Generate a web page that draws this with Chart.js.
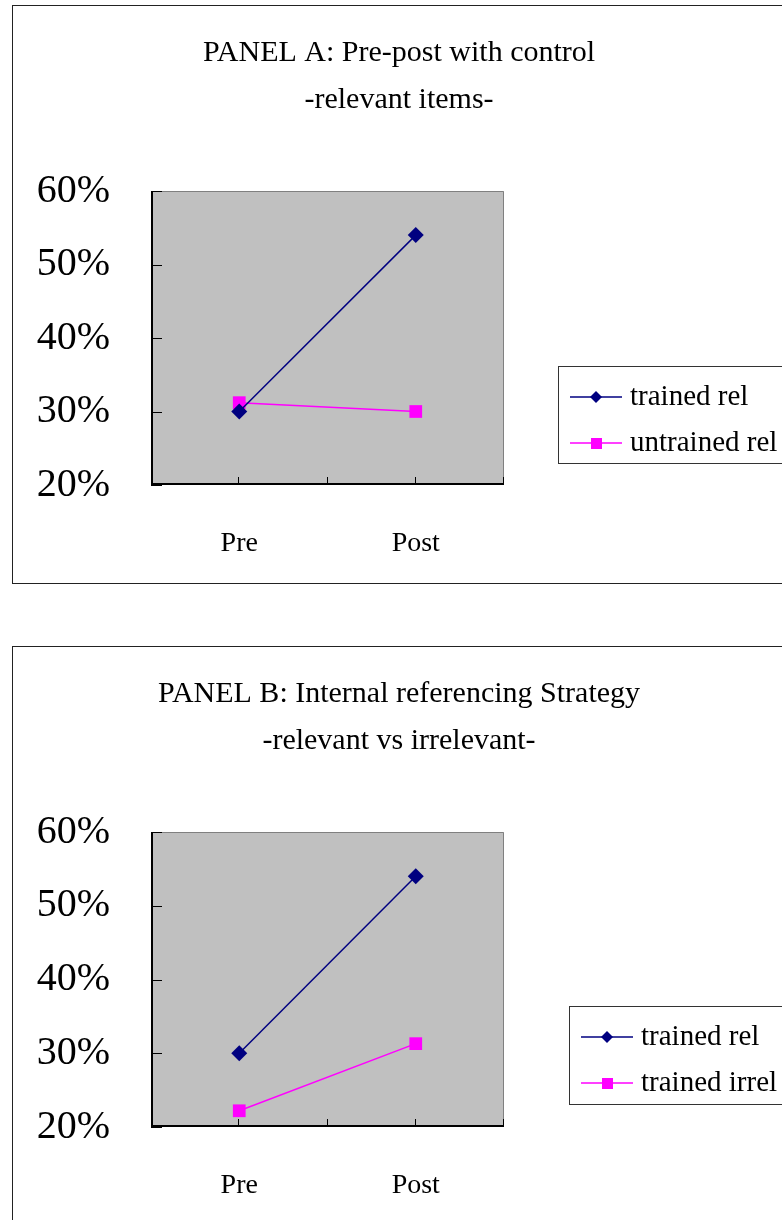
<!DOCTYPE html>
<html>
<head>
<meta charset="utf-8">
<script src="https://cdn.jsdelivr.net/npm/chart.js"></script>
<style>
  body { margin: 0; background: #fff; width: 782px; height: 1220px; position: relative; overflow: hidden; }
  .panel { position: absolute; left: 12px; width: 800px; border: 1px solid #222; background: #fff; }
  #boxA { top: 5px; height: 577px; }
  #boxB { top: 646px; height: 600px; }
  canvas { display: block; }
</style>
</head>
<body>
<div class="panel" id="boxA"><canvas id="chartA" width="769" height="577"></canvas></div>
<div class="panel" id="boxB"><canvas id="chartB" width="769" height="573"></canvas></div>
<script>
  const categories = ['Pre', 'Post'];
  const yLabelled = [20, 30, 40, 50, 60];

  const trainedRelA = [30, 54];
  const untrainedRelA = [31.2, 30];
  const trainedRelB = [30, 54];
  const trainedIrrelB = [22.2, 31.3];

  const FONT = "'Liberation Serif', 'Times New Roman', serif";

  // Pre sits at 1, Post at 3 on a 0..4 axis
  const toPoints = vals => categories.map((c, i) => ({ x: 2 * i + 1, y: vals[i] }));

  const panelPlugin = {
    id: 'panel',
    beforeDatasetsDraw(chart) {
      const a = chart.chartArea;
      const ctx = chart.ctx;
      ctx.save();
      ctx.fillStyle = '#c0c0c0';
      ctx.fillRect(a.left, a.top, a.right - a.left, a.bottom - a.top);
      // top/right frame grey
      ctx.strokeStyle = '#808080';
      ctx.lineWidth = 1;
      ctx.beginPath();
      ctx.moveTo(a.left, a.top + 0.5);
      ctx.lineTo(a.right - 0.5, a.top + 0.5);
      ctx.lineTo(a.right - 0.5, a.bottom);
      ctx.stroke();
      // axes black
      ctx.strokeStyle = '#000';
      ctx.lineWidth = 2;
      ctx.beginPath();
      ctx.moveTo(a.left + 1, a.top);
      ctx.lineTo(a.left + 1, a.bottom - 1);
      ctx.lineTo(a.right, a.bottom - 1);
      ctx.stroke();
      // tick marks pointing inward
      ctx.lineWidth = 1;
      const ys = chart.scales.y;
      ys.ticks.forEach(t => {
        const y = Math.round(ys.getPixelForValue(t.value)) + 0.5;
        ctx.beginPath();
        ctx.moveTo(a.left, y);
        ctx.lineTo(a.left + 11, y);
        ctx.stroke();
      });
      const xs = chart.scales.x;
      xs.ticks.forEach(t => {
        if (t.value === 0) return;
        const x = Math.round(xs.getPixelForValue(t.value)) - 0.5;
        ctx.beginPath();
        ctx.moveTo(x, a.bottom);
        ctx.lineTo(x, a.bottom - 8);
        ctx.stroke();
      });
      ctx.restore();
    },
    afterDraw(chart, args, opts) {
      const ctx = chart.ctx;
      ctx.save();
      ctx.fillStyle = '#000';
      ctx.font = '30px ' + FONT;
      ctx.textAlign = 'center';
      ctx.textBaseline = 'middle';
      opts.title.forEach((line, i) => ctx.fillText(line, opts.titleX, opts.titleY + i * 47));

      // legend
      const L = opts.legend;
      ctx.strokeStyle = '#333';
      ctx.lineWidth = 1;
      ctx.strokeRect(L.x + 0.5, L.y + 0.5, 400, L.h);
      chart.data.datasets.forEach((ds, i) => {
        const cy = L.y + 31 + i * 46;
        ctx.strokeStyle = ds.borderColor;
        ctx.lineWidth = 1.5;
        ctx.beginPath();
        ctx.moveTo(L.x + 12, cy);
        ctx.lineTo(L.x + 64, cy);
        ctx.stroke();
        ctx.fillStyle = ds.pointBackgroundColor;
        ctx.beginPath();
        if (ds.pointStyle === 'rectRot') {
          ctx.moveTo(L.x + 38, cy - 6);
          ctx.lineTo(L.x + 44, cy);
          ctx.lineTo(L.x + 38, cy + 6);
          ctx.lineTo(L.x + 32, cy);
          ctx.closePath();
        } else {
          ctx.rect(L.x + 33, cy - 5, 11, 11);
        }
        ctx.fill();
        ctx.fillStyle = '#000';
        ctx.font = '29px ' + FONT;
        ctx.textAlign = 'left';
        ctx.fillText(ds.label, L.x + 72, cy);
      });
      ctx.restore();
    }
  };

  function makeChart(id, title, legend, series, xHeight) {
    new Chart(document.getElementById(id), {
      type: 'line',
      data: {
        datasets: series.map(s => ({
          label: s.label,
          data: toPoints(s.values),
          borderColor: s.color,
          backgroundColor: s.color,
          pointBackgroundColor: s.color,
          pointBorderColor: s.color,
          pointBorderWidth: 0,
          pointStyle: s.style,
          pointRadius: s.style === 'rect' ? 9 : 8,
          borderWidth: 1.5,
          tension: 0
        }))
      },
      options: {
        responsive: false,
        animation: false,
        layout: { padding: { top: 185, left: 0, right: 278, bottom: 0 } },
        plugins: {
          legend: { display: false },
          tooltip: { enabled: false },
          panel: { title: title, titleX: 386, titleY: 47, legend: legend }
        },
        scales: {
          x: {
            type: 'linear', min: 0, max: 4,
            grid: { display: false }, border: { display: false },
            afterFit: s => { s.height = xHeight; },
            ticks: {
              stepSize: 1, autoSkip: false, maxRotation: 0, padding: 34,
              color: '#000', font: { family: FONT, size: 28 },
              callback: v => (v % 2 === 1 ? categories[(v - 1) / 2] : '')
            }
          },
          y: {
            min: 20, max: 60,
            grid: { display: false }, border: { display: false },
            afterFit: s => { s.width = 138; },
            ticks: {
              stepSize: 5, padding: 33,
              color: '#000', font: { family: FONT, size: 40 },
              callback: v => (yLabelled.includes(v) ? v + '%' : '')
            }
          }
        }
      },
      plugins: [panelPlugin]
    });
  }

  makeChart('chartA',
    ['PANEL A: Pre-post with control', '-relevant items-'],
    { x: 545, y: 360, h: 97 },
    [
      { label: 'trained rel', values: trainedRelA, color: '#000080', style: 'rectRot' },
      { label: 'untrained rel', values: untrainedRelA, color: '#ff00ff', style: 'rect' }
    ], 98);

  makeChart('chartB',
    ['PANEL B: Internal referencing Strategy', '-relevant vs irrelevant-'],
    { x: 556, y: 359, h: 98 },
    [
      { label: 'trained rel', values: trainedRelB, color: '#000080', style: 'rectRot' },
      { label: 'trained irrel', values: trainedIrrelB, color: '#ff00ff', style: 'rect' }
    ], 93);
</script>
</body>
</html>
